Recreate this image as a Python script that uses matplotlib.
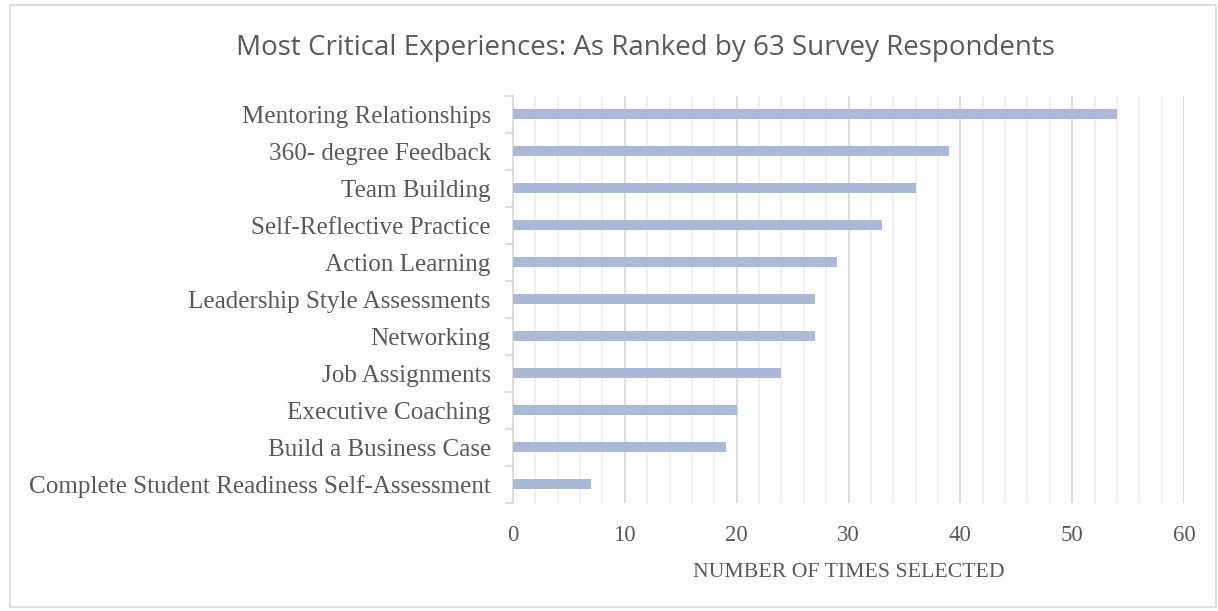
import matplotlib.pyplot as plt
from matplotlib.patches import Rectangle
from matplotlib.ticker import MultipleLocator
import numpy as np

categories = [
    "Mentoring Relationships",
    "360- degree Feedback",
    "Team Building",
    "Self-Reflective Practice",
    "Action Learning",
    "Leadership Style Assessments",
    "Networking",
    "Job Assignments",
    "Executive Coaching",
    "Build a Business Case",
    "Complete Student Readiness Self-Assessment",
]
times_selected = [54, 39, 36, 33, 29, 27, 27, 24, 20, 19, 7]
x_ticks = [0, 10, 20, 30, 40, 50, 60]

text_col = "#595959"
bar_col = "#abb9d6"

fig = plt.figure(figsize=(12.18, 6.11), dpi=100)
ax = fig.add_axes([0.4212, 0.1768, 0.5509, 0.6661])

# light frame round the whole chart
fig.patches.append(Rectangle((0.008, 0.006), 0.99, 0.986, transform=fig.transFigure,
                             fill=False, edgecolor="#d9d9d9", linewidth=1.2))

y = np.arange(len(categories))
ax.barh(y, times_selected, height=0.27, color=bar_col, zorder=3)

ax.set_ylim(len(categories) - 0.5, -0.5)
ax.set_xlim(0, 60)
ax.set_xticks(x_ticks)
ax.xaxis.set_minor_locator(MultipleLocator(2))
ax.grid(True, axis="x", which="major", color="#d9d9d9", linewidth=1.3, zorder=0)
ax.grid(True, axis="x", which="minor", color="#f0f0f0", linewidth=1.3, zorder=0)
ax.tick_params(axis="x", which="both", length=0, labelsize=16.5, labelcolor=text_col, pad=16)

ax.set_yticks(y)
ax.set_yticklabels(categories)
ax.set_yticks(np.arange(-0.5, len(categories), 1), minor=True)
ax.tick_params(axis="y", which="major", length=0, labelsize=18.1, labelcolor=text_col, pad=16)
ax.tick_params(axis="y", which="minor", length=6, color="#d9d9d9", width=1.2)

for lab in ax.get_xticklabels() + ax.get_yticklabels():
    lab.set_fontfamily("Liberation Serif")

for s in ["top", "right", "bottom"]:
    ax.spines[s].set_visible(False)
ax.spines["left"].set_color("#d9d9d9")
ax.spines["left"].set_linewidth(1.2)

ax.set_xlabel("NUMBER OF TIMES SELECTED", fontsize=15.7, color=text_col,
              fontfamily="Liberation Serif", labelpad=12)

fig.text(0.53, 0.922, "Most Critical Experiences: As Ranked by 63 Survey Respondents",
         ha="center", va="center", fontsize=20, color=text_col, fontfamily="Open Sans")

fig.savefig("out.png", dpi=100)
